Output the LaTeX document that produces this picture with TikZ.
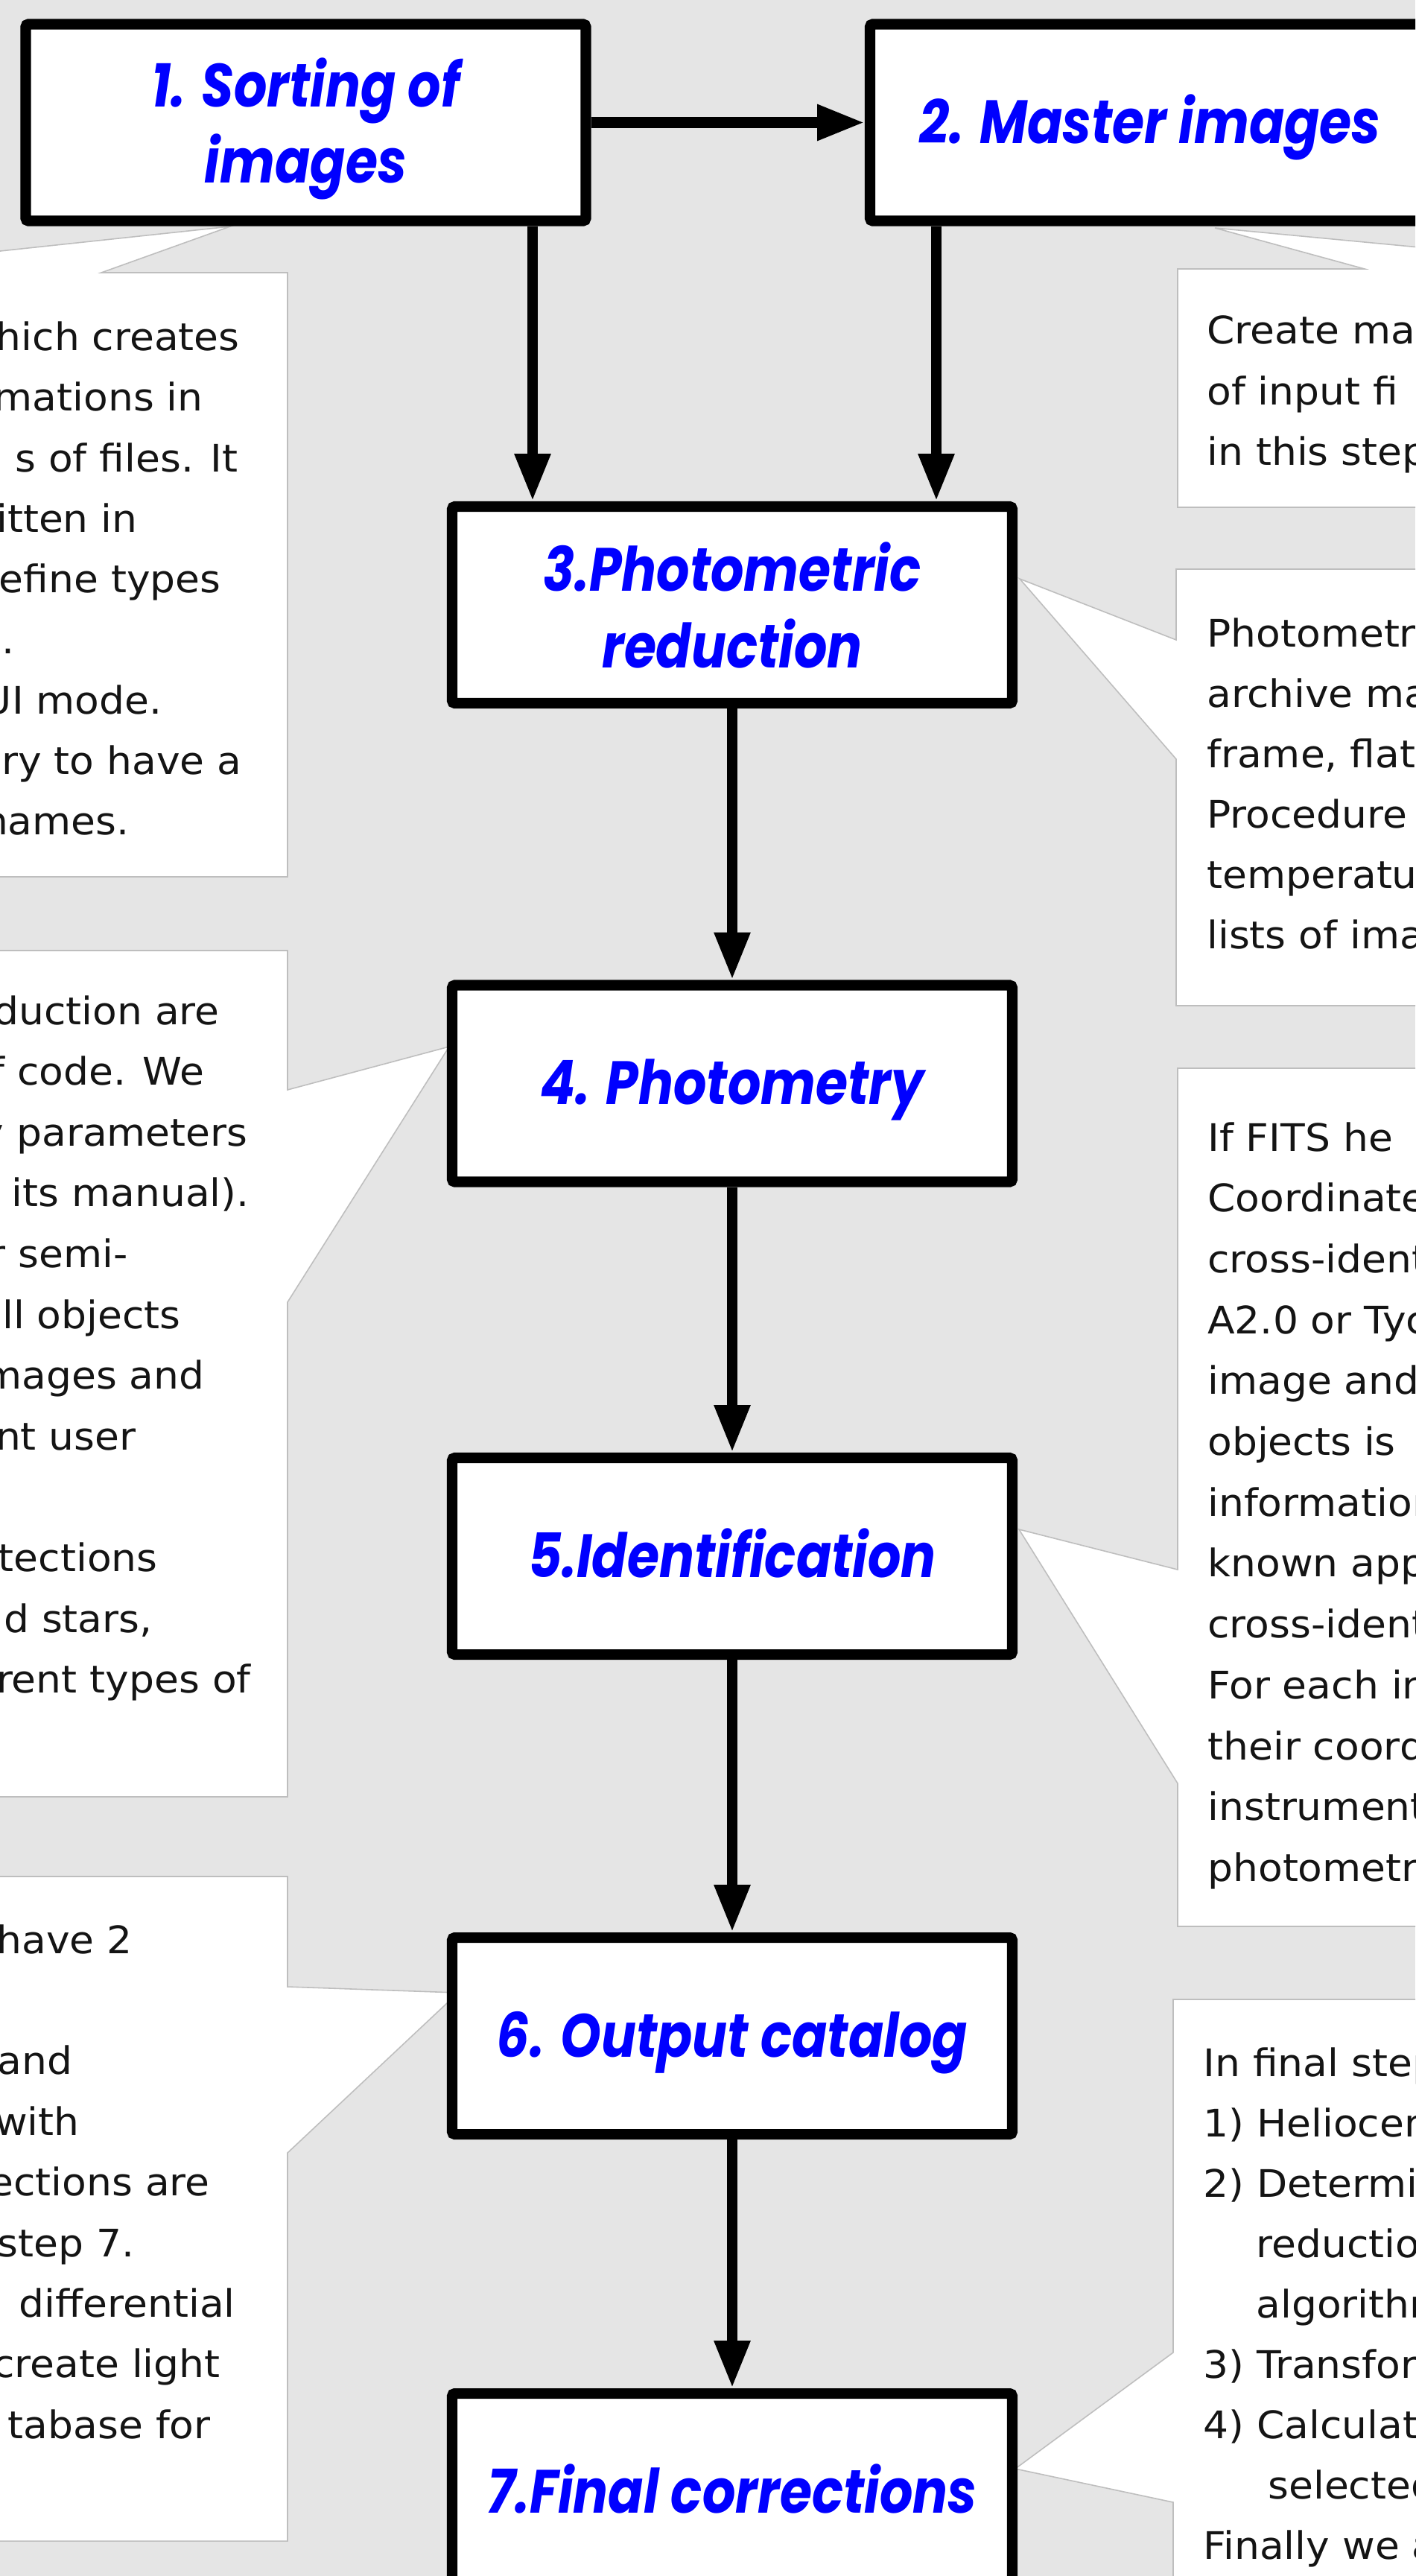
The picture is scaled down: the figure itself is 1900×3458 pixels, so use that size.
\documentclass[tikz,border=0pt]{standalone}
\usepackage{fontspec}
\setmainfont{DejaVu Sans}
\newfontfamily\bodyfont{DejaVu Sans}[FakeStretch=1.05]
\newfontfamily\titlefont{Poppins}[FakeStretch=0.85]
\usetikzlibrary{arrows.meta}
\definecolor{bggray}{RGB}{229,229,229}
\definecolor{callgray}{RGB}{190,190,190}
\definecolor{titleblue}{RGB}{0,0,255}
\definecolor{bodyblack}{RGB}{20,20,20}
\tikzset{
  stepbox/.style={draw=black, line width=8pt, fill=white, rounded corners=2pt,
    minimum width=752*0.02cm, minimum height=264*0.02cm, inner sep=0pt,
    text=titleblue, align=center,
    font=\titlefont\bfseries\itshape\fontsize{46.7pt}{58.6pt}\selectfont},
  oneline/.style={text height=31.9pt, text depth=0pt},
  callout/.style={fill=white, draw=callgray, line width=0.9pt},
  ltext/.style={anchor=base east, inner sep=0pt, text=bodyblack,
    font=\bodyfont\fontsize{29pt}{36pt}\selectfont},
  rtext/.style={anchor=base west, inner sep=0pt, text=bodyblack,
    font=\bodyfont\fontsize{29pt}{36pt}\selectfont},
  arr/.style={draw=black, line width=8.3pt,
    -{Triangle[length=36.4pt, width=25.6pt]}}
}
\begin{document}
\begin{tikzpicture}[x=0.02cm, y=-0.02cm]
\useasboundingbox (0,0) rectangle (1900,3458);
\fill[bggray] (0,0) rectangle (1900,3458);
\clip (0,0) rectangle (1900,3458);

% ---------- callouts ----------
\draw[callout] (-450,366) -- (-271,366) -- (309,304) -- (136,366) -- (386,366) -- (386,1177) -- (-450,1177) -- cycle;
\draw[callout] (1581,361) -- (1832,361) -- (1631,306) -- (2212,361) -- (2400,361) -- (2400,681) -- (1581,681) -- cycle;
\draw[callout] (1579,764) -- (2400,764) -- (2400,1350) -- (1579,1350) -- (1579,1019) -- (1369,777) -- (1579,859) -- cycle;
\draw[callout] (-450,1276) -- (386,1276) -- (386,1463) -- (603,1405) -- (386,1748) -- (386,2412) -- (-450,2412) -- cycle;
\draw[callout] (1581,1434) -- (2400,1434) -- (2400,2586) -- (1581,2586) -- (1581,2394) -- (1368,2053) -- (1581,2107) -- cycle;
\draw[callout] (-450,2519) -- (386,2519) -- (386,2667) -- (615,2675) -- (386,2890) -- (386,3411) -- (-450,3411) -- cycle;
\draw[callout] (1575,2684) -- (2400,2684) -- (2400,3600) -- (1575,3600) -- (1575,3359) -- (1363,3314) -- (1575,3158) -- cycle;

% ---------- callout texts: left column (clipped at left edge) ----------
\node[ltext] (a1) at (322,470.5) {hich creates};
\node[ltext] (a2) at (273,551.8) {rmations in};
\node[ltext] (a3) at (320,633.1) {s of files. It};
\node[ltext] (a4) at (185,714.4) {itten in};
\node[ltext] (a5) at (297,795.7) {efine types};
\node[ltext] (a6) at (20,877.0) {s.};
\node[ltext] (a7) at (218,958.3) {UI mode.};
\node[ltext] (a8) at (325,1039.6) {ary to have a};
\node[ltext] (a9) at (174,1120.9) {names.};

\node[ltext] (d1) at (295,1375) {duction are};
\node[ltext] (d2) at (275,1456.6) {f code. We};
\node[ltext] (d3) at (333,1538.2) {y parameters};
\node[ltext] (d4) at (335,1619.8) {e its manual).};
\node[ltext] (d5) at (172,1701.4) {r semi-};
\node[ltext] (d6) at (243,1783.0) {ll objects};
\node[ltext] (d7) at (275,1864.6) {mages and};
\node[ltext] (d8) at (183,1946.2) {nt user};
\node[ltext] (d9) at (212,2109.4) {tections};
\node[ltext] (d10) at (205,2191.0) {d stars,};
\node[ltext] (d11) at (337,2272.6) {rent types of};

\node[ltext] (f1) at (178,2622) {have 2};
\node[ltext] (f2) at (98,2784.8) {and};
\node[ltext] (f3) at (107,2866.2) {with};
\node[ltext] (f4) at (282,2947.6) {ections are};
\node[ltext] (f5) at (181,3029.0) {step 7.};
\node[ltext] (f6) at (316,3110.4) {differential};
\node[ltext] (f7) at (296,3191.8) {create light};
\node[ltext] (f8) at (283,3273.2) {tabase for};

% ---------- callout texts: right column (clipped at right edge) ----------
\node[rtext] (b1t) at (1620,461) {Create mas};
\node[rtext] (b2t) at (1620,543) {of input fi};
\node[rtext] (b3t) at (1620,624) {in this step};

\node[rtext] (c1) at (1620,868) {Photometr};
\node[rtext] (c2) at (1620,949) {archive mas};
\node[rtext] (c3) at (1620,1030) {frame, flat};
\node[rtext] (c4) at (1620,1111) {Procedure};
\node[rtext] (c5) at (1620,1192) {temperatur};
\node[rtext] (c6) at (1620,1273) {lists of imag};

\node[rtext] (e1) at (1621,1545.0) {If FITS he};
\node[rtext] (e2) at (1621,1626.7) {Coordinates};
\node[rtext] (e3) at (1621,1708.4) {cross-ident};
\node[rtext] (e4) at (1621,1790.1) {A2.0 or Tyc};
\node[rtext] (e5) at (1621,1871.8) {image and};
\node[rtext] (e6) at (1621,1953.5) {objects is};
\node[rtext] (e7) at (1621,2035.2) {information};
\node[rtext] (e8) at (1621,2116.9) {known appro};
\node[rtext] (e9) at (1621,2198.6) {cross-ident};
\node[rtext] (e10) at (1621,2280.3) {For each in};
\node[rtext] (e11) at (1621,2362.0) {their coord};
\node[rtext] (e12) at (1621,2443.7) {instrumenta};
\node[rtext] (e13) at (1621,2525.4) {photometry};

\node[rtext] (g1) at (1615,2787.0) {In final step};
\node[rtext] (g2) at (1615,2868.1) {1) Heliocen};
\node[rtext] (g3) at (1615,2949.2) {2) Determin};
\node[rtext] (g4) at (1686,3030.3) {reduction};
\node[rtext] (g5) at (1686,3111.4) {algorithm};
\node[rtext] (g6) at (1615,3192.5) {3) Transfor};
\node[rtext] (g7) at (1615,3273.6) {4) Calculati};
\node[rtext] (g8) at (1702,3354.7) {selected};
\node[rtext] (g9) at (1615,3435.8) {Finally we a};

% ---------- step boxes ----------
\node[stepbox] (s1) at (410.5,164.5) {\rule{0pt}{47pt}1. Sorting of\\images};
\node[stepbox, oneline] (s2) at (1544,164.5) {2. Master images};
\node[stepbox] (s3) at (983,812) {3.Photometric\\reduction};
\node[stepbox, oneline] (s4) at (983,1454.5) {4. Photometry};
\node[stepbox, oneline] (s5) at (983,2089) {5.Identification};
\node[stepbox, oneline] (s6) at (983,2733) {6. Output catalog};
\node[stepbox, oneline] (s7) at (983,3345) {7.Final corrections};

% ---------- connectors ----------
\coordinate (xl) at (715,0);
\coordinate (xr) at (1257,0);
\draw[arr] (s1) -- (s2);
\draw[arr] (s1.south -| xl) -- (s3.north -| xl);
\draw[arr] (s2.south -| xr) -- (s3.north -| xr);
\draw[arr] (s3) -- (s4);
\draw[arr] (s4) -- (s5);
\draw[arr] (s5) -- (s6);
\draw[arr] (s6) -- (s7);
\end{tikzpicture}
\end{document}
